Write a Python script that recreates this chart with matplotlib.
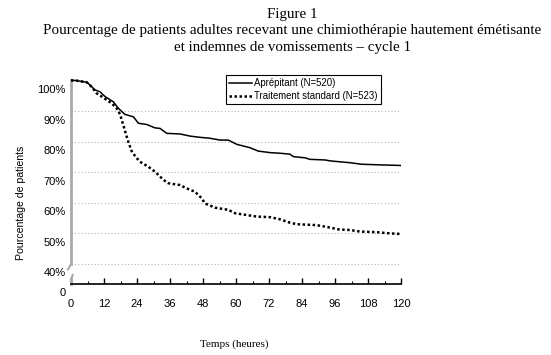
import matplotlib
matplotlib.use("Agg")
import matplotlib.pyplot as plt
import matplotlib.transforms as mtransforms

plt.rcParams["font.family"] = ["Liberation Sans", "DejaVu Sans"]

# Données (heures, % de patients sans vomissement)
aprep_h = [0, 1.5, 5.7, 6.9, 8.7, 10.5, 12.4, 15.4, 17.2, 19.6, 22.7, 24.5, 27.5, 30.5,
           32.4, 34.8, 39.6, 43.3, 46.9, 50.5, 54.2, 57.2, 60.3, 65.1, 68.1, 72.4, 76.0,
           79.6, 80.8, 85.1, 86.9, 92.4, 94.2, 101.5, 105.7, 112.4, 120]
aprep_pct = [100, 100, 99.4, 98.5, 96.9, 96.3, 94.7, 93.0, 90.9, 88.9, 88.1, 86.0, 85.6, 84.5,
             84.3, 82.7, 82.5, 81.8, 81.4, 81.1, 80.5, 80.5, 79.1, 78.0, 76.9, 76.4, 76.2,
             75.9, 75.1, 74.7, 74.2, 74.0, 73.7, 73.1, 72.6, 72.4, 72.2]

std_h = [0, 1.5, 5.7, 7.5, 9.3, 11.7, 14.8, 16.5, 17.8, 18.8, 19.8, 20.8, 22.0, 23.5, 25.1,
         28.1, 30.5, 33.6, 35.4, 39.6, 42.1, 45.1, 47.5, 48.7, 52.4, 57.2, 59.6, 63.9, 67.5,
         72.4, 76.0, 79.6, 82.1, 89.3, 94.2, 97.3, 101.5, 105.1, 111.2, 116.0, 120]
std_pct = [100, 100, 99.4, 97.9, 95.8, 94.4, 92.5, 91.0, 89.0, 86.0, 83.0, 80.0, 77.0, 75.0, 73.4,
           71.8, 70.2, 67.5, 66.4, 65.8, 64.7, 63.6, 61.5, 59.8, 58.4, 57.7, 56.6, 56.0, 55.5,
           55.3, 54.6, 53.5, 53.0, 52.7, 51.9, 51.3, 51.1, 50.6, 50.4, 50.0, 49.8]

labels = ["Aprépitant (N=520)", "Traitement standard (N=523)"]
x_ticks = list(range(0, 121, 12))
y_ticks = [40, 50, 60, 70, 80, 90, 100]
y_zero = 33.46  # position du "0" sous la coupure de l'axe

fig = plt.figure(figsize=(5.51, 3.55), dpi=100)
ax = fig.add_axes([0.1289, 0.2, 0.5989, 0.5907])
ax.set_xlim(0, 120)
ax.set_ylim(y_zero, 102)

# grille pointillée
for v in [40, 50, 60, 70, 80, 90]:
    ax.plot([0, 120], [v, v], color="#b4b4b4", lw=0.8, ls=(0, (1, 2)), zorder=1)

ax.plot(aprep_h, aprep_pct, color="black", lw=1.1, label=labels[0], zorder=3)
ax.plot(std_h, std_pct, color="black", lw=1.8, ls=(0, (1, 1)), label=labels[1], zorder=3)

# axes
for s in ["top", "right", "left"]:
    ax.spines[s].set_visible(False)
ax.spines["bottom"].set_linewidth(1.2)

# axe y gris avec coupure
gris = "#aaaaaa"
ax.plot([0, 0], [40, 100], color=gris, lw=2, clip_on=False, zorder=2)
ax.plot([0, -1.1], [40, 38.2], color=gris, lw=1.5, clip_on=False, zorder=2)
ax.plot([0, 0], [y_zero, 35.0], color=gris, lw=2, clip_on=False, zorder=2)
ax.plot([0, 0.6], [35.0, 36.4], color=gris, lw=1.5, clip_on=False, zorder=2)

ax.set_xticks(x_ticks)
ax.set_xticks(list(range(6, 120, 12)), minor=True)
ax.tick_params(axis="x", which="major", direction="in", length=4, width=1, pad=11, labelsize=8)
ax.tick_params(axis="x", which="minor", direction="in", length=2, width=0.8)

ax.set_yticks([y_zero] + y_ticks)
ax.set_yticklabels(["0"] + [f"{v}%" for v in y_ticks])
ax.tick_params(axis="y", length=0, pad=4, labelsize=8)
decal = mtransforms.ScaledTranslation(0, -8.5 / 100, fig.dpi_scale_trans)
for lab in ax.get_yticklabels():
    lab.set_transform(lab.get_transform() + decal)

ax.set_ylabel("Pourcentage de patients", fontsize=7.6)
ax.yaxis.set_label_coords(-0.135, 0.386)

fig.text(0.426, 0.03, "Temps (heures)", family="Liberation Serif", fontsize=8, ha="center", va="center")

leg = ax.legend(loc="upper left", bbox_to_anchor=(0.41, 0.789), bbox_transform=fig.transFigure,
                fontsize=6.9, frameon=True, fancybox=False, edgecolor="black", framealpha=1,
                handlelength=2.4, handletextpad=0.2, borderpad=0.35, labelspacing=0.3,
                borderaxespad=0)
leg.get_frame().set_linewidth(0.8)

titre = "Figure 1\nPourcentage de patients adultes recevant une chimiothérapie hautement émétisante\net indemnes de vomissements – cycle 1"
fig.text(0.531, 0.977, titre, family="Liberation Serif", fontsize=10.8, ha="center", va="top",
         linespacing=1.32)

fig.savefig("out.png", dpi=100)
